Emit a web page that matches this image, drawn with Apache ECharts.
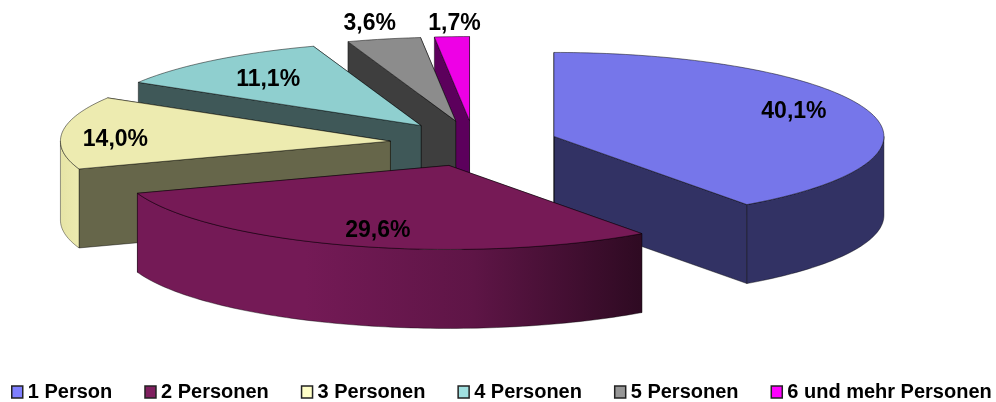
<!DOCTYPE html>
<html>
<head>
<meta charset="utf-8">
<title>Haushalte</title>
<style>
  html, body { margin: 0; padding: 0; background: #fff; }
  #chart { width: 996px; height: 402px; }
</style>
</head>
<body>
<div id="chart"></div>
<script src="https://cdn.jsdelivr.net/npm/echarts@6/dist/echarts.min.js"></script>
<script>
// data
var categories = ['1 Person', '2 Personen', '3 Personen', '4 Personen', '5 Personen', '6 und mehr Personen']
var shares = [40.1, 29.6, 14.0, 11.1, 3.6, 1.7]

// colours per slice
var legendColors = ['#7F7FFF', '#7F1F5F', '#FFFFC8', '#A0E0E0', '#969696', '#FF00FF']
var topColors = ['#7676EA', '#761A56', '#EDEBB0', '#8FCFCF', '#8C8C8C', '#EE00E6']
var wallColors = ['#323264', '#4A1038', '#66664A', '#3F5858', '#3E3E3E', '#5C005C']
// left to right across the outer wall
var rimColors = [
  ['#323264', '#323264'],
  ['#741A56', '#741A56', '#5E1546', '#2E0A22'],
  ['#E6E4A6', '#EDEBB0'],
  ['#3F5858', '#3F5858'],
  ['#3E3E3E', '#3E3E3E'],
  ['#5C005C', '#5C005C']
]
// back to front, the 3d look depends on it
var drawOrder = [1, 6, 5, 4, 3, 2]
// label offset from the slice apex, px
var labelOffsets = [[240, -25], [-71, 65], [-275, -2], [-153, -46], [-86, -97], [-15, -97]]

// pie geometry, px
var cx = 474
var cy = 143.5
var rx = 330
var ry = 84
var depth = 79
var explodeX = 84
var explodeY = 23

var total = shares.reduce(function(a, b) { return a + b }, 0)

function rim(apex, angle, dy) {
  return [apex[0] + rx * Math.sin(angle), apex[1] - ry * Math.cos(angle) + (dy || 0)]
}

function arcPoints(apex, a0, a1, dy) {
  var pts = []
  var n = Math.max(2, Math.ceil((a1 - a0) / 0.02))
  for (var i = 0; i <= n; i++) {
    pts.push(rim(apex, a0 + (a1 - a0) * i / n, dy))
  }
  return pts
}

function wall(apex, angle, fill) {
  var p = rim(apex, angle)
  return {
    type: 'polygon',
    silent: true,
    shape: { points: [apex, p, [p[0], p[1] + depth], [apex[0], apex[1] + depth]] },
    style: { fill: fill, stroke: 'rgba(0,0,0,0.55)', lineWidth: 0.8 }
  }
}

function renderSlice(index, value) {
  var before = shares.slice(0, index).reduce(function(a, b) { return a + b }, 0)
  var a0 = before / total * Math.PI * 2
  var a1 = a0 + value / total * Math.PI * 2
  var mid = (a0 + a1) / 2
  var apex = [cx + explodeX * Math.sin(mid), cy - explodeY * Math.cos(mid)]
  var children = []

  children.push(wall(apex, a1, wallColors[index]))
  children.push(wall(apex, a0, wallColors[index]))

  // outer wall, only the front half can be seen
  var r0 = Math.max(a0, Math.PI / 2)
  var r1 = Math.min(a1, Math.PI * 1.5)
  if (r1 > r0) {
    var stops = rimColors[index].map(function(c, i, all) {
      return { offset: i / (all.length - 1), color: c }
    })
    children.push({
      type: 'polygon',
      silent: true,
      shape: { points: arcPoints(apex, r0, r1).concat(arcPoints(apex, r0, r1, depth).reverse()) },
      style: {
        fill: new echarts.graphic.LinearGradient(0, 0, 1, 0, stops),
        stroke: 'rgba(0,0,0,0.5)',
        lineWidth: 0.8
      }
    })
  }

  children.push({
    type: 'polygon',
    silent: true,
    shape: { points: [apex].concat(arcPoints(apex, a0, a1)) },
    style: { fill: topColors[index], stroke: 'rgba(0,0,0,0.6)', lineWidth: 0.8 }
  })

  children.push({
    type: 'text',
    silent: true,
    z2: 50,
    style: {
      text: value.toFixed(1).replace('.', ',') + '%',
      x: apex[0] + labelOffsets[index][0],
      y: apex[1] + labelOffsets[index][1],
      align: 'center',
      verticalAlign: 'middle',
      fill: '#000',
      font: 'bold 23px "Liberation Sans", Arial, sans-serif'
    }
  })

  return { type: 'group', children: children }
}

var chart = echarts.init(document.getElementById('chart'), null, { renderer: 'canvas' })

chart.setOption({
  animation: false,
  backgroundColor: '#fff',
  tooltip: { show: false },
  legend: {
    left: 11,
    top: 382,
    z: 10,
    padding: 0,
    icon: 'rect',
    itemWidth: 11,
    itemHeight: 12,
    itemGap: 32,
    selectedMode: false,
    itemStyle: { borderColor: '#222', borderWidth: 1.5 },
    textStyle: {
      color: '#000',
      fontFamily: '"Liberation Sans", Arial, sans-serif',
      fontWeight: 'bold',
      fontSize: 20
    },
    data: categories
  },
  series: categories.map(function(name, i) {
    return {
      name: name,
      type: 'custom',
      coordinateSystem: 'none',
      z: drawOrder[i],
      silent: true,
      itemStyle: { color: legendColors[i] },
      data: [[shares[i]]],
      renderItem: function(params, api) {
        return renderSlice(i, api.value(0))
      }
    }
  })
})
</script>
</body>
</html>
